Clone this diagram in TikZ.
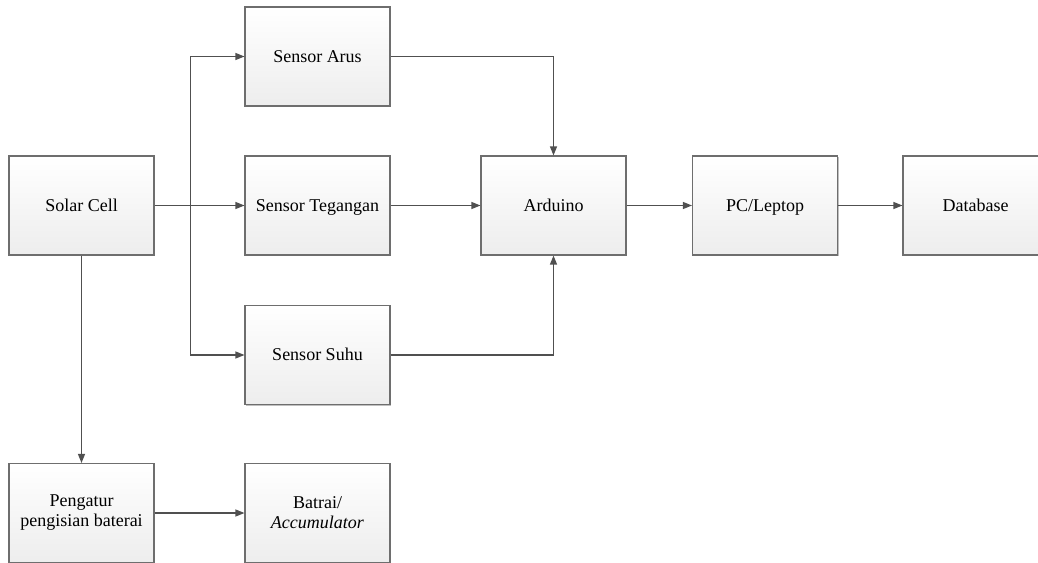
\documentclass[tikz,border=0pt]{standalone}
\usepackage{fontspec}
\setmainfont{Liberation Serif}
\usetikzlibrary{arrows.meta,shadows}
\definecolor{boxline}{HTML}{6E6E6E}
\definecolor{conn}{HTML}{505050}
\tikzset{
  blk/.style={draw=boxline, line width=1.1pt, minimum width=145pt, minimum height=99pt,
    inner sep=0pt, top color=white, bottom color=black!7, align=center,
    font=\rmfamily\fontsize{18}{20}\selectfont,
    drop shadow={shadow xshift=1.2pt, shadow yshift=-1.2pt, opacity=0.25, fill=black}},
  one/.style={text height=13pt, text depth=2pt},
  con/.style={draw=conn, line width=1.2pt, -{Triangle[length=9pt,width=7pt]}},
  lin/.style={draw=conn, line width=1.2pt}
}
\begin{document}
\begin{tikzpicture}[x=1pt,y=-1pt]
\useasboundingbox (0,0) rectangle (1038,562);
\clip (0,0) rectangle (1038,562);
\node[blk,one] (solar) at (81.5,205.5) {Solar Cell};
\node[blk,one] (arus) at (317.5,56.5) {Sensor Arus};
\node[blk,one] (teg) at (317.5,205.5) {Sensor Tegangan};
\node[blk,one] (suhu) at (317.5,355) {Sensor Suhu};
\node[blk,one] (ard) at (553.5,205.5) {Arduino};
\node[blk,one] (pc) at (765,205.5) {PC/Leptop};
\node[blk,one] (db) at (975.5,205.5) {Database};
\node[blk] (peng) at (81.5,513) {Pengatur\\pengisian baterai};
\node[blk] (bat) at (317.5,513) {Batrai/\\\textit{Accumulator}};
\coordinate (br) at (190.5,205.5);
\draw[lin] (solar.east) -- (br);
\draw[con] (br) -- (teg.west);
\draw[con] (br) |- (arus.west);
\draw[con] (br) |- (suhu.west);
\draw[con] (arus.east) -| (ard.north);
\draw[con] (teg.east) -- (ard.west);
\draw[con] (suhu.east) -| (ard.south);
\draw[con] (ard.east) -- (pc.west);
\draw[con] (pc.east) -- (db.west);
\draw[con] (solar.south) -- (peng.north);
\draw[con] (peng.east) -- (bat.west);
\end{tikzpicture}
\end{document}
